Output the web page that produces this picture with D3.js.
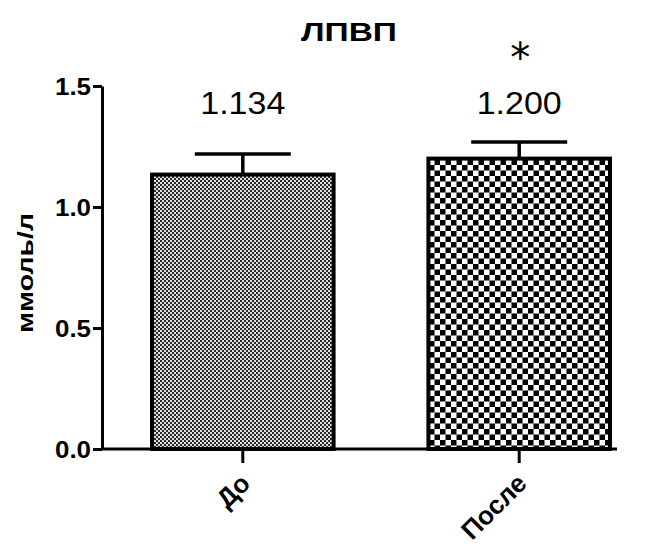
<!DOCTYPE html>
<html>
<head>
<meta charset="utf-8">
<script src="https://cdn.jsdelivr.net/npm/d3@7"></script>
<style>
body{margin:0;background:#fff;}
text{font-family:"Liberation Sans",Arial,sans-serif;fill:#000;}
</style>
</head>
<body>
<svg id="chart" width="653" height="553"></svg>
<script>
const categories = ["До", "После"];
const values = [1.134, 1.200];
const errors = [0.085, 0.069];
const valueLabels = ["1.134", "1.200"];
const significance = ["", "*"];
const yTicks = [0, 0.5, 1.0, 1.5];
const yTickLabels = ["0.0", "0.5", "1.0", "1.5"];
const title = "ЛПВП";
const yLabel = "ммоль/л";

const svg = d3.select("#chart");
const defs = svg.append("defs");

// fine checker pattern
const p1 = defs.append("pattern").attr("id","pat1").attr("patternUnits","userSpaceOnUse")
  .attr("width",4).attr("height",4);
p1.append("rect").attr("width",4).attr("height",4).attr("fill","#e0e0e0");
p1.append("rect").attr("x",0).attr("y",0).attr("width",2).attr("height",2).attr("fill","#2a2a2a");
p1.append("rect").attr("x",2).attr("y",2).attr("width",2).attr("height",2).attr("fill","#2a2a2a");

// coarse checker pattern
const p2 = defs.append("pattern").attr("id","pat2").attr("patternUnits","userSpaceOnUse")
  .attr("width",11).attr("height",11);
p2.append("rect").attr("width",11).attr("height",11).attr("fill","#fff");
p2.append("rect").attr("x",0).attr("y",0).attr("width",5.5).attr("height",5.5).attr("fill","#000");
p2.append("rect").attr("x",5.5).attr("y",5.5).attr("width",5.5).attr("height",5.5).attr("fill","#000");

const y = d3.scaleLinear().domain([0,1.5]).range([449,86]);
const x = d3.scaleBand().domain(categories).range([152,610]).paddingInner(0.343).paddingOuter(0);

// bars
svg.selectAll("rect.bar").data(categories).enter().append("rect")
  .attr("class","bar")
  .attr("x", d=>x(d))
  .attr("y", (d,i)=>y(values[i]))
  .attr("width", x.bandwidth())
  .attr("height", (d,i)=>y(0)-y(values[i]))
  .attr("fill", (d,i)=> i===0 ? "url(#pat1)" : "url(#pat2)")
  .attr("stroke","#000").attr("stroke-width",4);

// error bars
const capW = 96;
categories.forEach((c,i)=>{
  const cx = x(c)+x.bandwidth()/2;
  svg.append("line").attr("x1",cx).attr("x2",cx)
    .attr("y1",y(values[i])).attr("y2",y(values[i]+errors[i]))
    .attr("stroke","#000").attr("stroke-width",3.5);
  svg.append("line").attr("x1",cx-capW/2).attr("x2",cx+capW/2)
    .attr("y1",y(values[i]+errors[i])).attr("y2",y(values[i]+errors[i]))
    .attr("stroke","#000").attr("stroke-width",3.5);
  svg.append("text").attr("x",cx).attr("y",114).attr("text-anchor","middle")
    .attr("font-size",32).attr("textLength",85).attr("lengthAdjust","spacingAndGlyphs")
    .text(valueLabels[i]);
  if (significance[i]) {
    svg.append("text").attr("x",cx+1).attr("y",72).attr("text-anchor","middle")
      .style("font-family","'DejaVu Sans',sans-serif")
      .attr("font-size",40).text(significance[i]);
  }
});

// y axis
const yAxis = d3.axisLeft(y).tickValues(yTicks).tickFormat((d,i)=>yTickLabels[i]).tickSize(9).tickSizeOuter(0).tickPadding(2);
const gy = svg.append("g").attr("transform","translate(102,0)").call(yAxis);
gy.select(".domain").attr("stroke","#000").attr("stroke-width",3);
gy.selectAll(".tick line").attr("stroke","#000").attr("stroke-width",3);
gy.selectAll(".tick text").attr("font-size",23).attr("font-weight","bold")
  .attr("textLength",36).attr("lengthAdjust","spacingAndGlyphs")
  .style("font-family","'Liberation Sans',Arial,sans-serif").attr("fill","#000").attr("dy","0.35em");

// x axis
const xAxis = d3.axisBottom(x).tickSize(14).tickSizeOuter(0).tickFormat("");
const gx = svg.append("g").attr("transform","translate(0,449)").call(xAxis);
gx.select(".domain").attr("d","M101,0H617").attr("stroke","#000").attr("stroke-width",3);
gx.selectAll(".tick line").attr("stroke","#000").attr("stroke-width",3);
gx.selectAll(".tick").each(function(d){
  d3.select(this).append("text")
    .attr("transform","translate(9,36) rotate(-45)")
    .attr("text-anchor","end")
    .attr("font-size",26).attr("font-weight","bold")
    .style("font-family","'Liberation Sans',Arial,sans-serif")
    .attr("fill","#000")
    .text(d);
});

// title
svg.append("text").attr("x",349).attr("y",41).attr("text-anchor","middle")
  .attr("font-size",25).attr("font-weight","bold")
  .attr("textLength",96).attr("lengthAdjust","spacingAndGlyphs").text(title);

// y label
svg.append("text").attr("transform","translate(33,273) rotate(-90)")
  .attr("text-anchor","middle").attr("font-size",22).attr("font-weight","bold")
  .attr("textLength",120).attr("lengthAdjust","spacingAndGlyphs").text(yLabel);
</script>
</body>
</html>
